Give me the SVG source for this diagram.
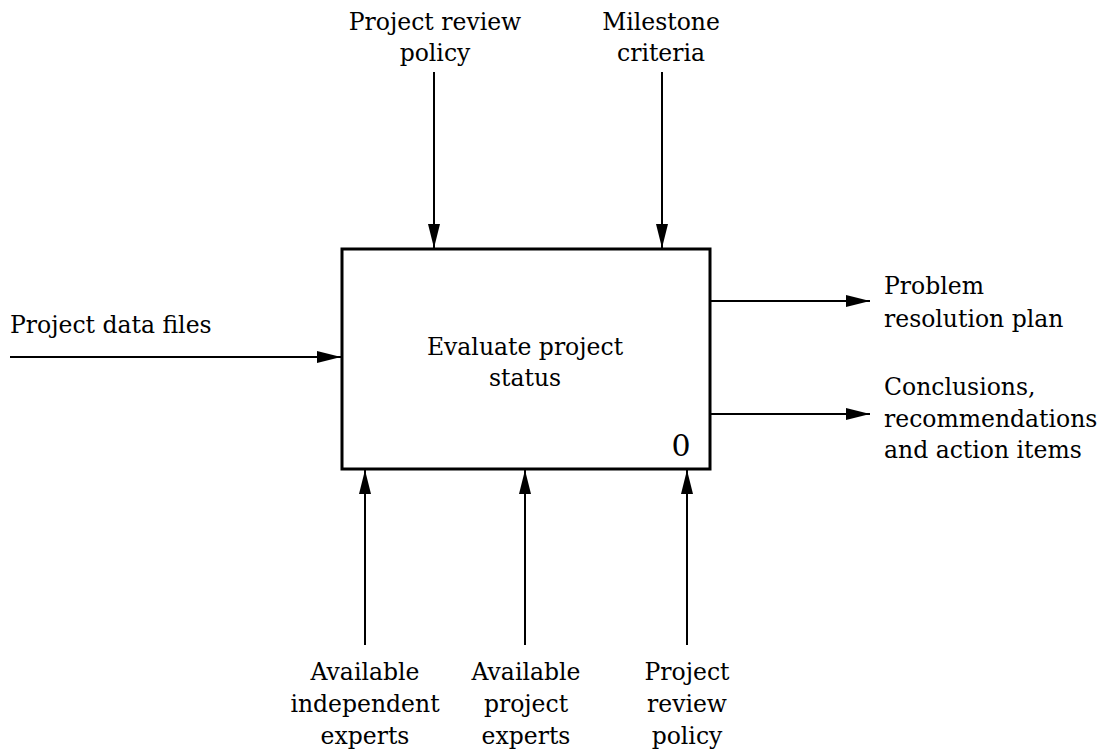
<svg xmlns="http://www.w3.org/2000/svg" width="1109" height="751" viewBox="0 0 1109 751">
<defs>
<style>
text{font-family:"DejaVu Serif","Liberation Serif",serif;font-size:23.5px;fill:#000}
.c{text-anchor:middle}
.ln{stroke:#000;stroke-width:2;fill:none}
</style>
<marker id="ah" viewBox="0 0 24 12" refX="24" refY="6" markerWidth="24" markerHeight="12" markerUnits="userSpaceOnUse" orient="auto">
<path d="M0,0 L24,6 L0,12 Z" fill="#000"/>
</marker>
</defs>
<rect width="1109" height="751" fill="#fff"/>
<g id="connectors">
<line class="ln" x1="434" y1="72" x2="434" y2="248" marker-end="url(#ah)"/>
<line class="ln" x1="662" y1="72" x2="662" y2="248" marker-end="url(#ah)"/>
<line class="ln" x1="10" y1="357" x2="341" y2="357" marker-end="url(#ah)"/>
<line class="ln" x1="711" y1="301" x2="870" y2="301" marker-end="url(#ah)"/>
<line class="ln" x1="711" y1="414" x2="870" y2="414" marker-end="url(#ah)"/>
<line class="ln" x1="365" y1="645" x2="365" y2="470" marker-end="url(#ah)"/>
<line class="ln" x1="525" y1="645" x2="525" y2="470" marker-end="url(#ah)"/>
<line class="ln" x1="687" y1="645" x2="687" y2="470" marker-end="url(#ah)"/>
</g>
<g id="node-0">
<rect x="342" y="249" width="368" height="220" fill="#fff" stroke="#000" stroke-width="3"/>
<text class="c" x="525" y="355">Evaluate project</text>
<text class="c" x="525" y="386">status</text>
<text x="681" y="456" style="font-size:30px" text-anchor="middle">0</text>
</g>
<g id="label-top1">
<text class="c" x="435" y="30">Project review</text>
<text class="c" x="435" y="61">policy</text>
</g>
<g id="label-top2">
<text class="c" x="661" y="30">Milestone</text>
<text class="c" x="661" y="61">criteria</text>
</g>
<g id="label-left">
<text x="10" y="333">Project data files</text>
</g>
<g id="label-right1">
<text x="884" y="294">Problem</text>
<text x="884" y="327">resolution plan</text>
</g>
<g id="label-right2">
<text x="884" y="395">Conclusions,</text>
<text x="884" y="427">recommendations</text>
<text x="884" y="458">and action items</text>
</g>
<g id="label-bottom1">
<text class="c" x="365" y="680">Available</text>
<text class="c" x="365" y="712">independent</text>
<text class="c" x="365" y="744">experts</text>
</g>
<g id="label-bottom2">
<text class="c" x="526" y="680">Available</text>
<text class="c" x="526" y="712">project</text>
<text class="c" x="526" y="744">experts</text>
</g>
<g id="label-bottom3">
<text class="c" x="687" y="680">Project</text>
<text class="c" x="687" y="712">review</text>
<text class="c" x="687" y="744">policy</text>
</g>
</svg>
